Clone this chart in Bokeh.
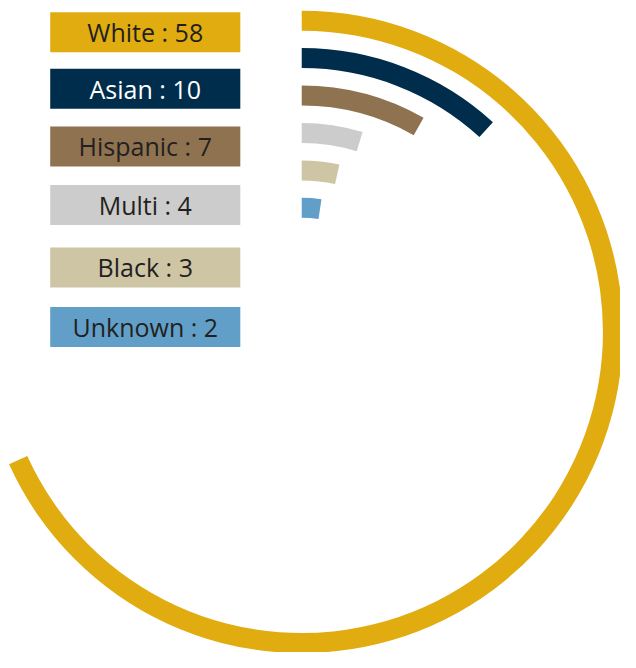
import math
from bokeh.plotting import figure
from bokeh.models import Range1d, ColumnDataSource
from bokeh.core.properties import value
from bokeh.embed import file_html
from bokeh.resources import INLINE

# ---- data ----
categories = ["White", "Asian", "Hispanic", "Multi", "Black", "Unknown"]
counts = [58, 10, 7, 4, 3, 2]
colors = ["#E0AC10", "#002D4B", "#8F7350", "#CCCCCC", "#CEC5A5", "#619FC9"]
text_colors = ["#231F20", "#FFFFFF", "#231F20", "#231F20", "#231F20", "#231F20"]
scale_max = 85  # value of a full circle

# ---- layout (reference-pixel geometry, 636 x 668 canvas) ----
CW, CH = 636, 668
W, H = 620, 652
def sy(y):  # canvas y (down) -> data y (up)
    return CH - y

cx, cy = 309, sy(339.5)
outer0, step, thick = 329.5, 38.4, 20.5
legend_tops = [12, 70, 129, 189, 253, 314]
box_left, box_right, box_h = 51, 246, 41

outer = [outer0 - i * step for i in range(len(counts))]
inner = [r - thick for r in outer]
end_ang = [math.pi / 2] * len(counts)
start_ang = [math.pi / 2 - c / scale_max * 2 * math.pi for c in counts]

arcs = ColumnDataSource(dict(x=[cx] * len(counts), y=[cy] * len(counts),
                             inner=inner, outer=outer, start=start_ang,
                             end=end_ang, color=colors))

labels = [f"{c} : {v}" for c, v in zip(categories, counts)]
leg = ColumnDataSource(dict(
    left=[box_left] * len(counts), right=[box_right] * len(counts),
    top=[sy(t) for t in legend_tops], bottom=[sy(t + box_h) for t in legend_tops],
    tx=[(box_left + box_right) / 2] * len(counts),
    ty=[sy(t + box_h / 2) for t in legend_tops],
    label=labels, color=colors, tcolor=text_colors))

p = figure(width=W, height=H, output_backend="svg", toolbar_location=None,
           x_range=Range1d(0, CW), y_range=Range1d(0, CH),
           min_border=0, outline_line_color=None, background_fill_color="white")
p.axis.visible = False
p.grid.visible = False

p.annular_wedge(x="x", y="y", inner_radius="inner", outer_radius="outer",
                start_angle="start", end_angle="end", direction="anticlock",
                fill_color="color", line_color=None, source=arcs)

p.quad(left="left", right="right", top="top", bottom="bottom",
       fill_color="color", line_color=None, source=leg)
p.text(x="tx", y="ty", text="label", text_color="tcolor",
       text_font=value("Open Sans"), text_font_size="25px",
       text_align="center", text_baseline="middle", source=leg)

open("out.html", "w").write(file_html(p, INLINE))
